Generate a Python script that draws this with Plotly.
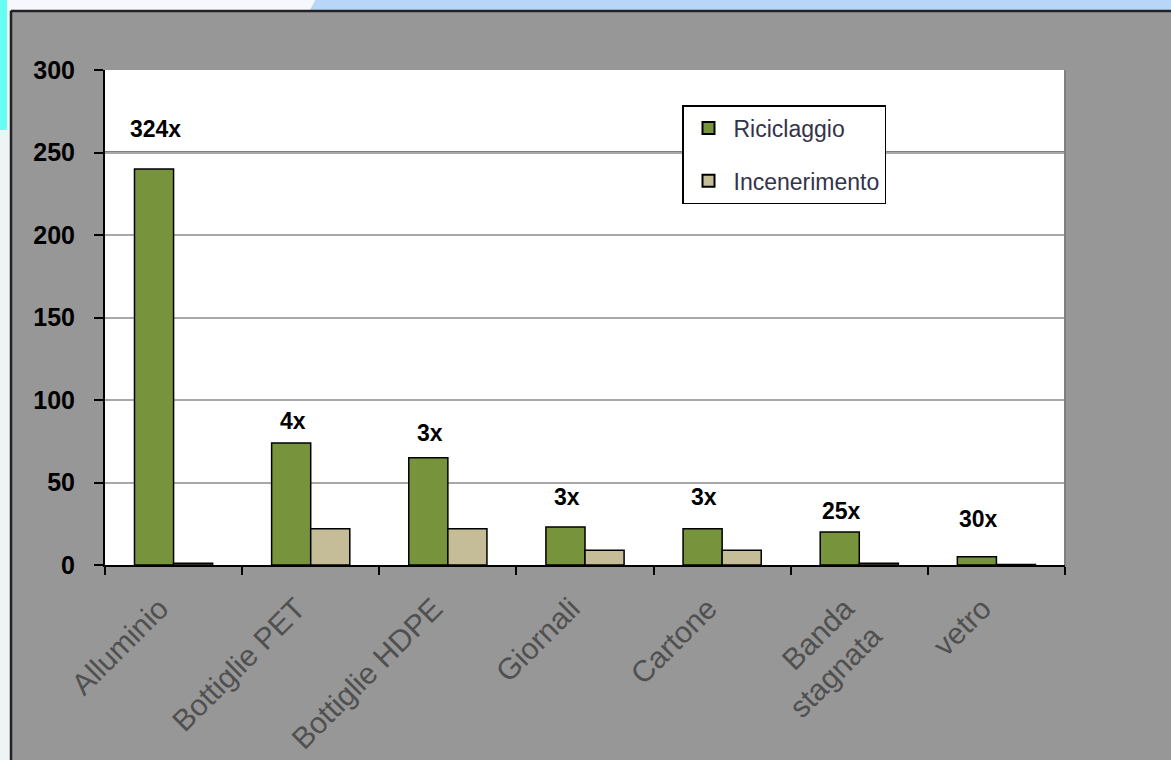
import plotly.graph_objects as go

categories = ["Alluminio", "Bottiglie PET", "Bottiglie HDPE", "Giornali", "Cartone", "Banda<br>stagnata", "vetro"]
riciclaggio = [240, 74, 65, 23, 22, 20, 5]
incenerimento = [1, 22, 22, 9, 9, 1, 0.3]
ratio_labels = ["324x", "4x", "3x", "3x", "3x", "25x", "30x"]
label_y = [264, 87, 80, 41, 41, 33, 28]
y_ticks = [0, 50, 100, 150, 200, 250, 300]
dark_grid = [250, 100]

FONT = "Liberation Sans, Arial"

fig = go.Figure()
fig.add_trace(go.Bar(x=categories, y=riciclaggio, name="Riciclaggio", legendgroup="a",
                     marker=dict(color="#77933c", line=dict(color="black", width=1.5))))
fig.add_trace(go.Bar(x=categories, y=incenerimento, name="Incenerimento", legendgroup="b",
                     marker=dict(color="#c4bd97", line=dict(color="black", width=1.5))))

for c, t, yv in zip(categories, ratio_labels, label_y):
    fig.add_annotation(x=c, y=yv, text="<b>" + t + "</b>", showarrow=False, xshift=-18,
                       font=dict(family=FONT, size=23, color="black"))

for g in dark_grid:
    fig.add_shape(type="line", xref="paper", yref="y", x0=0, x1=1, y0=g, y1=g,
                  line=dict(color="black", width=2), layer="below")

# right edge of plot area
fig.add_shape(type="line", xref="paper", yref="paper", x0=1, x1=1, y0=0, y1=1,
              line=dict(color="#808080", width=2))

# slide decorations (paper coords: plot spans x 105..1065 px, y 565..70 px)
PX = 960.0
PY = 495.0
def xp(px):
    return (px - 105) / PX
def yp(py):
    return (565 - py) / PY

fig.add_shape(type="rect", xref="paper", yref="paper", x0=xp(-5), x1=xp(1180), y0=yp(10), y1=yp(-5),
              fillcolor="#b8d6f8", line=dict(width=0), layer="below")
fig.add_shape(type="path", xref="paper", yref="paper",
              path=f"M {xp(-5)},{yp(-5)} L {xp(318)},{yp(-5)} L {xp(310)},{yp(10)} L {xp(-5)},{yp(10)} Z",
              fillcolor="#f6f8fe", line=dict(width=0), layer="below")
fig.add_shape(type="rect", xref="paper", yref="paper", x0=xp(-5), x1=xp(10), y0=yp(770), y1=yp(10),
              fillcolor="#eef3f3", line=dict(width=0), layer="below")
fig.add_shape(type="rect", xref="paper", yref="paper", x0=xp(-5), x1=xp(7), y0=yp(130), y1=yp(-5),
              fillcolor="#66fff4", line=dict(width=0), layer="below")
fig.add_shape(type="line", xref="paper", yref="paper", x0=xp(11), x1=xp(1180), y0=yp(11), y1=yp(11),
              line=dict(color="#222222", width=2.5), layer="below")
fig.add_shape(type="line", xref="paper", yref="paper", x0=xp(11), x1=xp(11), y0=yp(770), y1=yp(11),
              line=dict(color="#222222", width=2.5), layer="below")

fig.update_layout(
    width=1171, height=760,
    margin=dict(l=105, r=106, t=70, b=195),
    paper_bgcolor="#979797", plot_bgcolor="white",
    barmode="group", bargap=0.43, bargroupgap=0,
    showlegend=True,
    legend=dict(x=xp(682), y=yp(105), xanchor="left", yanchor="top",
                bgcolor="white", bordercolor="black", borderwidth=1.5,
                font=dict(family=FONT, size=23, color="#33334a"),
                tracegroupgap=20, itemsizing="constant", itemwidth=40),
    font=dict(family=FONT),
)
fig.update_xaxes(showline=True, linecolor="black", linewidth=2, ticks="outside",
                 tickson="boundaries", ticklen=8, tickcolor="black", tickwidth=2,
                 tickangle=-45, tickfont=dict(size=30, color="#505050", family=FONT),
                 ticklabelstandoff=12, ticklabelshift=-14, automargin=False)
fig.update_yaxes(range=[0, 300], tickvals=y_ticks, showline=True, linecolor="black", linewidth=2,
                 ticks="outside", ticklen=9, tickcolor="black", tickwidth=2,
                 gridcolor="#a8a8a8", gridwidth=2, zeroline=False, ticklabelstandoff=14,
                 automargin=False,
                 tickfont=dict(size=25, color="black", family=FONT, weight="bold"))
fig.write_html("out.html")
